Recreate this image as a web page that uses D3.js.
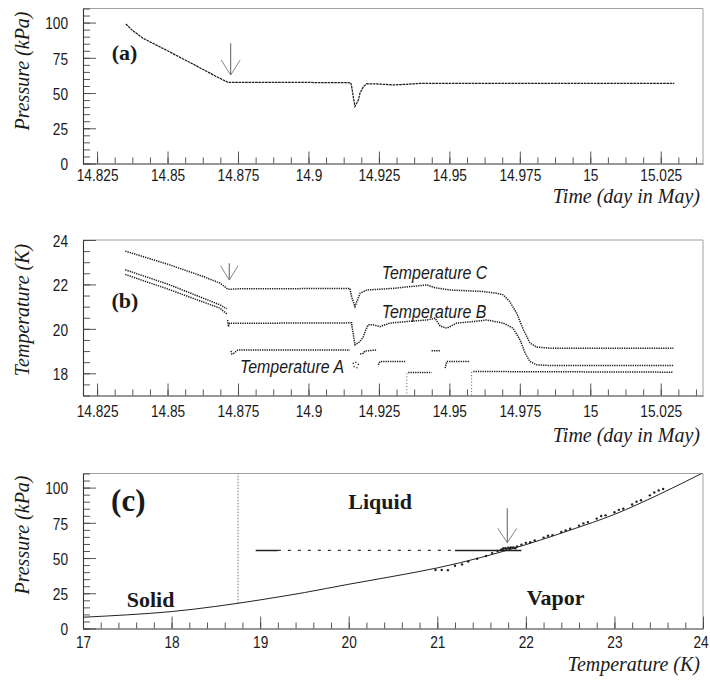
<!DOCTYPE html>
<html>
<head>
<meta charset="utf-8">
<script src="https://cdn.jsdelivr.net/npm/d3@7"></script>
<style>
  body { margin: 0; background: #fff; }
  svg { display: block; }
</style>
</head>
<body>
<svg id="fig" width="710" height="680"></svg>
<script>
// ---------- axis ranges and tick labels ----------
const timeDomain = [14.82, 15.04];
const timeTicks = [14.825, 14.85, 14.875, 14.9, 14.925, 14.95, 14.975, 15, 15.025];
const timeTickLabels = ["14.825", "14.85", "14.875", "14.9", "14.925", "14.95", "14.975", "15", "15.025"];
const pressureDomain = [0, 110];
const pressureTicks = [0, 25, 50, 75, 100];
const sensorTempDomain = [17, 24];
const sensorTempTicks = [18, 20, 22, 24];
const phaseTempDomain = [17, 24];
const phaseTempTicks = [17, 18, 19, 20, 21, 22, 23, 24];

// ---------- (a) cell pressure vs time [day, kPa] ----------
const pressureSeries = [
  [14.8352, 99.0], [14.8375, 94.5], [14.8412, 89.0], [14.85, 80.0], [14.86, 69.5],
  [14.868, 61.0], [14.8715, 57.6], [14.875, 57.5], [14.9, 57.5], [14.915, 57.3],
  [14.9153, 55.0], [14.9159, 47.5], [14.9165, 40.5], [14.9177, 45.0], [14.9183, 50.0],
  [14.9195, 54.5], [14.9207, 56.6], [14.925, 56.4], [14.93, 55.8], [14.935, 56.2],
  [14.94, 56.9], [14.95, 56.8], [14.975, 56.8], [15.0, 56.8], [15.0298, 56.8]
];

// ---------- (b) sensor temperatures vs time [day, K] ----------
const tempC = [
  [14.835, 23.5], [14.8508, 22.88], [14.8626, 22.36], [14.8686, 22.06], [14.8715, 21.78],
  [14.875, 21.8], [14.9147, 21.82], [14.9153, 21.45], [14.9165, 21.0], [14.9183, 21.6],
  [14.9207, 21.75], [14.93, 21.82], [14.942, 21.98], [14.9449, 21.85], [14.9502, 21.75],
  [14.962, 21.68], [14.9668, 21.6], [14.9691, 21.53], [14.9714, 21.23], [14.9739, 20.7],
  [14.9763, 19.95], [14.9786, 19.36], [14.981, 19.18], [14.9857, 19.13], [15.0295, 19.13]
];
const tempB = [
  [
    [14.835, 22.66], [14.8508, 21.98], [14.8686, 21.08], [14.871, 20.9]
  ],
  [
    [14.8713, 20.4], [14.8716, 20.1], [14.872, 20.25], [14.9153, 20.27], [14.9156, 20.0],
    [14.9165, 19.28], [14.9183, 19.43], [14.9195, 19.65], [14.9201, 19.88], [14.9212, 20.18],
    [14.923, 20.18], [14.9254, 20.1], [14.9289, 20.26], [14.9349, 20.33], [14.942, 20.4],
    [14.9449, 20.48], [14.9467, 20.13], [14.9491, 20.03], [14.9526, 20.26], [14.9585, 20.33],
    [14.9632, 20.4], [14.9691, 20.26], [14.9726, 20.03], [14.9751, 19.5], [14.9769, 18.9],
    [14.9786, 18.53], [14.981, 18.38], [14.9857, 18.35], [15.0295, 18.35]
  ]
];
const tempA = [
  [[14.835, 22.45], [14.8508, 21.76], [14.8686, 20.93], [14.8712, 20.65]],
  [[14.8725, 19.0], [14.8728, 18.87], [14.8735, 18.9], [14.875, 19.05], [14.9147, 19.05]],
  [[14.9183, 18.87], [14.9195, 18.9], [14.92, 19.0], [14.9242, 19.05]],
  [[14.9248, 18.38], [14.9254, 18.53], [14.9343, 18.53]],
  [[14.9354, 18.03], [14.9437, 18.03]],
  [[14.9437, 19.02], [14.9467, 19.02]],
  [[14.9485, 18.23], [14.9491, 18.53], [14.9573, 18.53]],
  [[14.9585, 18.08], [15.0295, 18.05]]
];
const tempAScatter = [
  [14.9159, 18.45], [14.9162, 18.3], [14.9168, 18.5], [14.9172, 18.25], [14.9177, 18.4]
];
// readings that fell off the bottom of the range: [day, from K, to K]
const tempADropouts = [
  [14.9349, 18.0, 17.0], [14.9579, 18.06, 17.0]
];

// ---------- (c) phase diagram ----------
const vaporCurve = [
  [17, 8.0], [17.5, 9.7], [18, 12.0], [18.25, 13.7], [18.5, 15.7], [18.75, 17.9], [19, 20.3],
  [19.5, 25.5], [20, 31.4], [20.5, 37.0], [21, 43.0], [21.5, 50.5], [22, 59.5], [22.5, 69.8],
  [23, 81.0], [23.5, 95.0], [24, 110.5]
];
const triplePoint = [18.75, 17.9];
const plateauPressure = 55.4;
const plateauDense = [[18.95, 19.2], [21.2, 21.95]];
const plateauSparse = [[19.2, 21.2]];
const phaseScatter = [
  [20.98, 41.5], [21.05, 41.6], [21.12, 41.4], [21.2, 44.5], [21.28, 45.5], [21.35, 47.5],
  [21.45, 49.5], [21.55, 51.5], [21.62, 53.5], [21.68, 55.0], [21.72, 56.0], [21.74, 56.6],
  [21.75, 56.8], [21.77, 57.0], [21.78, 56.5], [21.8, 57.3], [21.82, 56.9], [21.83, 57.5],
  [21.85, 57.2], [21.86, 57.6], [21.88, 57.0], [21.9, 58.3], [21.95, 59.5], [22.0, 60.8],
  [22.05, 61.2], [22.1, 62.5], [22.2, 64.5], [22.25, 65.8], [22.3, 66.3], [22.4, 68.5],
  [22.45, 69.6], [22.5, 70.8], [22.6, 73.0], [22.65, 74.6], [22.7, 75.5], [22.8, 78.0],
  [22.85, 79.8], [22.9, 80.3], [23.0, 82.5], [23.05, 84.2], [23.1, 85.0], [23.2, 88.0],
  [23.25, 90.0], [23.3, 91.0], [23.4, 94.5], [23.45, 96.5], [23.5, 98.0], [23.55, 99.0]
];

// ---------- layout ----------
const svg = d3.select("#fig");
const frameL = 83, frameR = 703;
const serif = "'Liberation Serif', 'DejaVu Serif', serif";
const sans = "'Liberation Sans', Arial, sans-serif";
const squeeze = 0.83;      // condensed look for the sans-serif numerals
const ink = "#1a1a1a";

function addClip(id, x, y) {
  svg.append("clipPath").attr("id", id).append("rect")
    .attr("x", x.range()[0]).attr("y", y.range()[1])
    .attr("width", x.range()[1] - x.range()[0])
    .attr("height", y.range()[0] - y.range()[1]);
}

function drawFrame(x, y, opt) {
  const g = svg.append("g");
  const x0 = x.range()[0], x1 = x.range()[1], yb = y.range()[0], yt = y.range()[1];
  // faint top and right edges
  g.append("path").attr("d", `M${x0},${yt}H${x1}V${yb}`)
    .attr("fill", "none").attr("stroke", "#a0a0a0").attr("stroke-width", 1);

  const minorX = g.append("g").attr("transform", `translate(0,${yb})`)
    .call(d3.axisBottom(x).tickValues(opt.xMinor).tickSize(-6).tickSizeOuter(0).tickFormat(""));
  minorX.select(".domain").remove();
  const majorX = g.append("g").attr("transform", `translate(0,${yb})`)
    .call(d3.axisBottom(x).tickValues(opt.xMajor).tickSize(-12).tickSizeOuter(0)
      .tickPadding(opt.xPad).tickFormat(opt.xFmt));

  const minorY = g.append("g").attr("transform", `translate(${x0},0)`)
    .call(d3.axisLeft(y).tickValues(opt.yMinor).tickSize(-7).tickSizeOuter(0).tickFormat(""));
  minorY.select(".domain").remove();
  const majorY = g.append("g").attr("transform", `translate(${x0},0)`)
    .call(d3.axisLeft(y).tickValues(opt.yMajor).tickSize(-13).tickSizeOuter(0)
      .tickPadding(15).tickFormat(opt.yFmt));

  g.selectAll(".tick line").attr("stroke", "#444").attr("stroke-width", 0.9);
  g.selectAll(".domain").attr("stroke", "#333").attr("stroke-width", 1.1);
  g.selectAll(".tick text").attr("font-family", sans).attr("font-size", 16.5).attr("fill", ink)
    .attr("transform", `scale(${squeeze},1)`);
  majorY.selectAll(".tick text").attr("dy", "0.38em").attr("x", -15 / squeeze);
  return majorX;
}

function axisTitle(txt, x, y, rotate, anchor) {
  const t = svg.append("text").text(txt)
    .attr("font-family", serif).attr("font-style", "italic").attr("font-size", 20)
    .attr("fill", ink).attr("text-anchor", anchor);
  if (rotate) t.attr("transform", `translate(${x},${y}) rotate(-90)`);
  else t.attr("x", x).attr("y", y);
}

function panelTag(txt, x, y, size) {
  svg.append("text").text(txt).attr("x", x).attr("y", y)
    .attr("font-family", serif).attr("font-weight", "bold").attr("font-size", size)
    .attr("fill", ink).attr("text-anchor", "middle");
}

// thin open-headed arrow pointing down at a data location
function arrow(xs, ys, at, len, headLen, headHalf) {
  const px = xs(at[0]), py = ys(at[1]);
  const g = svg.append("g").attr("fill", "none").attr("stroke", "#333").attr("stroke-width", 0.8);
  g.append("path").attr("d", `M${px},${py - len}V${py}`);
  g.append("path").attr("d", `M${px - headHalf},${py - headLen}L${px},${py}L${px + headHalf},${py - headLen}`)
    .attr("stroke", "#666");
}

const timeMinor = d3.range(0, 36).map(i => +(14.825 + i * 0.00625).toFixed(5)).filter(v => v <= 15.04);
const timeFmt = d => timeTickLabels[timeTicks.indexOf(d)];

// ================= (a) =================
const xa = d3.scaleLinear().domain(timeDomain).range([frameL, frameR]);
const ya = d3.scaleLinear().domain(pressureDomain).range([163.5, 8.5]);
addClip("clipA", xa, ya);
drawFrame(xa, ya, {
  xMajor: timeTicks, xMinor: timeMinor, xFmt: timeFmt, xPad: 6,
  yMajor: pressureTicks, yMinor: d3.range(0, 111, 5), yFmt: d3.format("d")
});
svg.append("path").datum(pressureSeries)
  .attr("clip-path", "url(#clipA)")
  .attr("d", d3.line().x(d => xa(d[0])).y(d => ya(d[1])))
  .attr("fill", "none").attr("stroke", "#1e1e1e").attr("stroke-width", 1.25)
  .attr("stroke-dasharray", "2.6,0.7");
arrow(xa, ya, [14.8724, 62.8], 31.7, 15, 9.5);
panelTag("(a)", 124.5, 60, 22);
axisTitle("Pressure (kPa)", 29, 71, true, "middle");
axisTitle("Time (day in May)", 700, 203, false, "end");

// ================= (b) =================
const xb = d3.scaleLinear().domain(timeDomain).range([frameL, frameR]);
const yb = d3.scaleLinear().domain(sensorTempDomain).range([395.5, 240]);
addClip("clipB", xb, yb);
drawFrame(xb, yb, {
  xMajor: timeTicks, xMinor: timeMinor, xFmt: timeFmt, xPad: 9.5,
  yMajor: sensorTempTicks, yMinor: d3.range(17, 24.01, 0.5), yFmt: d3.format("d")
});
const lineB = d3.line().x(d => xb(d[0])).y(d => yb(d[1]));
const traces = svg.append("g").attr("clip-path", "url(#clipB)")
  .attr("fill", "none").attr("stroke", "#1c1c1c").attr("stroke-width", 1.5)
  .attr("stroke-dasharray", "1.3,1.0");
traces.append("path").datum(tempC).attr("d", lineB);
traces.selectAll(".runB").data(tempB).join("path").attr("class", "runB").attr("d", lineB);
traces.selectAll(".runA").data(tempA).join("path").attr("class", "runA").attr("d", lineB);
traces.selectAll(".dropA").data(tempADropouts).join("path").attr("class", "dropA")
  .attr("d", d => `M${xb(d[0])},${yb(d[1])}V${yb(d[2])}`)
  .attr("stroke", "#555").attr("stroke-width", 1).attr("stroke-dasharray", "1,2.2");
svg.append("g").attr("fill", "#333").selectAll("circle").data(tempAScatter).join("circle")
  .attr("cx", d => xb(d[0])).attr("cy", d => yb(d[1])).attr("r", 0.8);
arrow(xb, yb, [14.8719, 22.2], 16.7, 14.3, 8.8);
panelTag("(b)", 125, 308, 22);
axisTitle("Temperature (K)", 29, 310, true, "middle");
axisTitle("Time (day in May)", 700, 442, false, "end");
const sensorLabels = [["Temperature C", 381.7, 279], ["Temperature B", 381.7, 318], ["Temperature A", 240, 373]];
svg.selectAll(".sensorLbl").data(sensorLabels).join("text").attr("class", "sensorLbl")
  .text(d => d[0]).attr("transform", d => `translate(${d[1]},${d[2]}) scale(0.86,1)`)
  .attr("font-family", sans).attr("font-style", "italic").attr("font-size", 18.5).attr("fill", ink);

// ================= (c) =================
const xc = d3.scaleLinear().domain(phaseTempDomain).range([frameL, frameR]);
const yc = d3.scaleLinear().domain(pressureDomain).range([628.5, 473.5]);
addClip("clipC", xc, yc);
const xAxisC = drawFrame(xc, yc, {
  xMajor: phaseTempTicks, xMinor: d3.range(0, 36).map(i => +(17 + i * 0.2).toFixed(2)), xFmt: d3.format("d"), xPad: 8,
  yMajor: pressureTicks, yMinor: d3.range(0, 111, 5), yFmt: d3.format("d")
});
// keep the last label inside the page edge
xAxisC.selectAll(".tick text").filter(d => d === phaseTempDomain[1]).attr("x", -3);
const gc = svg.append("g").attr("clip-path", "url(#clipC)");
gc.append("path")
  .attr("d", `M${xc(triplePoint[0])},${yc(triplePoint[1])}V${yc(pressureDomain[1])}`)
  .attr("stroke", "#777").attr("stroke-width", 1).attr("stroke-dasharray", "1.5,1.5");
gc.append("path").datum(vaporCurve)
  .attr("d", d3.line().curve(d3.curveMonotoneX).x(d => xc(d[0])).y(d => yc(d[1])))
  .attr("fill", "none").attr("stroke", "#222").attr("stroke-width", 1);
gc.selectAll(".pDense").data(plateauDense).join("path").attr("class", "pDense")
  .attr("d", d => `M${xc(d[0])},${yc(plateauPressure)}H${xc(d[1])}`)
  .attr("stroke", "#222").attr("stroke-width", 1.4);
gc.selectAll(".pSparse").data(plateauSparse).join("path").attr("class", "pSparse")
  .attr("d", d => `M${xc(d[0])},${yc(plateauPressure)}H${xc(d[1])}`)
  .attr("stroke", "#333").attr("stroke-width", 1.2).attr("stroke-dasharray", "3,7");
gc.selectAll(".pt").data(phaseScatter).join("circle").attr("class", "pt")
  .attr("cx", d => xc(d[0])).attr("cy", d => yc(d[1])).attr("r", 1.2).attr("fill", "#222");
arrow(xc, yc, [21.79, 60.9], 34.4, 14.4, 9.5);
panelTag("(c)", 128.3, 511, 31);
axisTitle("Pressure (kPa)", 29, 535, true, "middle");
axisTitle("Temperature (K)", 700, 671, false, "end");
const phaseLabels = [["Solid", 126.7, 607], ["Liquid", 348.3, 509], ["Vapor", 526.7, 605]];
svg.selectAll(".phaseLbl").data(phaseLabels).join("text").attr("class", "phaseLbl")
  .text(d => d[0]).attr("x", d => d[1]).attr("y", d => d[2])
  .attr("font-family", serif).attr("font-weight", "bold").attr("font-size", 22).attr("fill", ink);
</script>
</body>
</html>
